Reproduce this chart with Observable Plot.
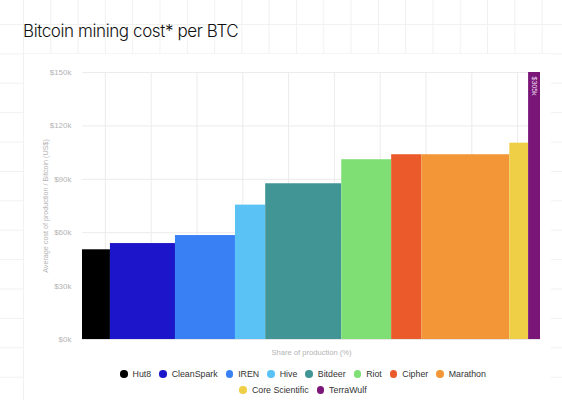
<!DOCTYPE html>
<html>
<head>
<meta charset="utf-8">
<script src="https://cdn.jsdelivr.net/npm/d3@7"></script>
<script src="https://cdn.jsdelivr.net/npm/@observablehq/plot@0.6"></script>
<style>
  html, body { margin: 0; padding: 0; }
  body {
    width: 562px; height: 400px; position: relative; overflow: hidden;
    background-color: #fff;
    background-image: linear-gradient(to right, #f1f1f1 1px, transparent 1px),
                      linear-gradient(to bottom, #f1f1f1 1px, transparent 1px);
    background-size: 27.3px 29.4px;
    background-position: 23px 24px;
    font-family: "Liberation Sans", Arial, sans-serif;
  }
  #card { position: absolute; left: 24px; top: 54px; width: 527px; height: 360px; background: #fff; }
  #title { position: absolute; left: 23px; top: 21px; font-family: Inter, sans-serif; font-size: 17px; font-weight: 300; color: #111; letter-spacing: -0.4px; }
  #chart { position: absolute; left: 0; top: 52px; }
  #legend { position: absolute; left: 44px; width: 518px; top: 366px; font-size: 8.8px; color: #333; }
  .row { display: flex; justify-content: center; gap: 8px; height: 16px; align-items: center; }
  .item { display: flex; align-items: center; gap: 5px; }
  .sw { width: 7.5px; height: 7.5px; border-radius: 50%; display: inline-block; }
</style>
</head>
<body>
<div id="card"></div>
<div id="title">Bitcoin mining cost* per BTC</div>
<div id="chart"></div>
<div id="legend"></div>
<script>
const companies = ["Hut8","CleanSpark","IREN","Hive","Bitdeer","Riot","Cipher","Marathon","Core Scientific","TerraWulf"];
const shares = [6.1, 14.2, 13.1, 6.6, 16.6, 10.9, 6.6, 19.2, 4.1, 2.6];
const costs = [50400, 53900, 58400, 75500, 87500, 101000, 103800, 103800, 110300, 305000];
const colors = ["#000000","#1c15c9","#3a80f5","#5bc2f5","#419595","#7fdf74","#ea5a2b","#f39638","#efcf46","#7b1679"];
const yTicks = [0, 30000, 60000, 90000, 120000, 150000];
const xGrid = [5, 15, 25, 35, 45, 55, 65, 75, 85, 95];
const legendBreak = 8;

let acc = 0;
const data = companies.map((c, i) => {
  const d = {company: c, x1: acc, x2: acc + shares[i], cost: costs[i], color: colors[i]};
  acc += shares[i];
  return d;
});
const yMax = yTicks[yTicks.length - 1];

const chart = Plot.plot({
  width: 562,
  height: 310,
  marginTop: 20,
  marginBottom: 23,
  marginLeft: 82,
  marginRight: 22,
  style: {fontFamily: "'Liberation Sans', Arial, sans-serif", background: "transparent"},
  x: {domain: [0, acc], axis: null},
  y: {domain: [0, yMax], axis: null},
  color: {domain: companies, range: colors},
  marks: [
    Plot.frame({fill: "#fff", stroke: null}),
    Plot.gridX(xGrid, {stroke: "#ececec", strokeOpacity: 1}),
    Plot.gridY(yTicks, {stroke: "#ececec", strokeOpacity: 1}),
    Plot.axisY(yTicks, {
      tickSize: 0, tickPadding: 11, fontSize: 8, fill: "#b3b3b3",
      tickFormat: d => "$" + d / 1000 + "k",
      label: "Average cost of production / Bitcoin (US$)",
      labelAnchor: "center", labelArrow: "none", labelOffset: 40
    }),
    Plot.rect(data, {x1: "x1", x2: "x2", y1: 0, y2: "cost", fill: "company", clip: true}),
    Plot.ruleY([0], {stroke: "#e6e6e6"}),
    Plot.text(data.filter(d => d.cost > yMax), {
      x: d => (d.x1 + d.x2) / 2, y: yMax,
      text: d => "$" + d.cost / 1000 + "k",
      rotate: 90, textAnchor: "start", dy: 4, fontSize: 7, fill: "#e8d8ea"
    }),
    Plot.text(["Share of production (%)"], {frameAnchor: "bottom", dy: 15, fontSize: 7.6, fill: "#b3b3b3"})
  ]
});
chart.querySelectorAll("text").forEach(t => {
  if (t.textContent.startsWith("Average")) { t.setAttribute("font-size", "7.2"); t.setAttribute("fill", "#b3b3b3"); }
});
document.getElementById("chart").appendChild(chart);

const legend = document.getElementById("legend");
[companies.slice(0, legendBreak), companies.slice(legendBreak)].forEach((row, r) => {
  const div = document.createElement("div");
  div.className = "row";
  row.forEach((c, j) => {
    const i = r * legendBreak + j;
    const it = document.createElement("span");
    it.className = "item";
    it.innerHTML = `<span class="sw" style="background:${colors[i]}"></span><span>${c}</span>`;
    div.appendChild(it);
  });
  legend.appendChild(div);
});
</script>
</body>
</html>
